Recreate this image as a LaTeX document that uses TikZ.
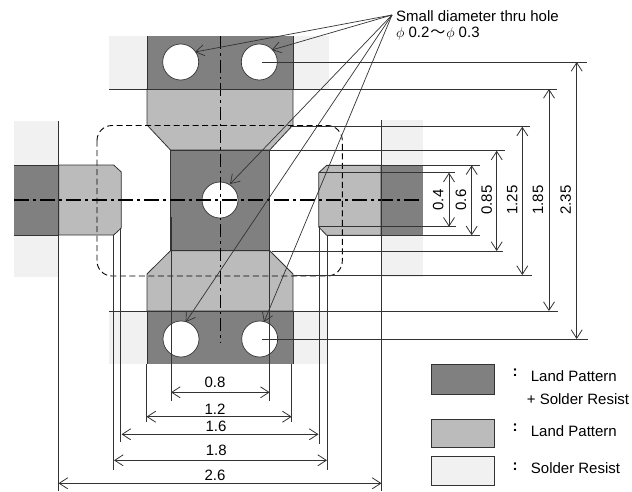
\documentclass[tikz,border=0pt]{standalone}
\usepackage{fontspec}
\setmainfont{Liberation Sans}
\newfontfamily\cjkfont{Noto Sans CJK SC}
\usetikzlibrary{arrows.meta}
\definecolor{dk}{HTML}{808080}
\definecolor{md}{HTML}{BBBBBB}
\definecolor{lt}{HTML}{F1F1F1}
\definecolor{ln}{HTML}{333333}
\tikzset{
  dim/.style={draw=ln,line width=0.8pt},
  dimarrow/.style={draw=ln,line width=0.8pt,{Straight Barb[length=8.5pt,width=11pt]}-{Straight Barb[length=8.5pt,width=11pt]}},
  leader/.style={draw=ln,line width=0.7pt,-{Straight Barb[length=8.5pt,width=11pt]}},
  lab/.style={font=\fontsize{15}{17}\selectfont,inner sep=0pt,text=black},
  vlab/.style={lab,rotate=90},
  pad/.style={draw=ln,line width=0.8pt},
  hcentre/.style={line width=1.2pt,dash pattern=on 15pt off 4pt on 3pt off 4pt,black},
  vcentre/.style={line width=0.8pt,dash pattern=on 13pt off 4pt on 2.5pt off 4pt,black},
  hole/.style={circle,draw=ln,fill=white,line width=0.7pt,minimum size=36pt,inner sep=0pt},
  legendbox/.style={draw=ln,line width=0.8pt,minimum width=63pt,inner sep=0pt,anchor=north west}
}
\begin{document}
\begin{tikzpicture}[x=1pt,y=-1pt]
\useasboundingbox (0,0) rectangle (632,491);
\fill[white] (0,0) rectangle (632,491);
% solder resist
\fill[lt] (109,36) rectangle (328.7,89);
\fill[lt] (109,311) rectangle (327,364);
\fill[lt] (14,121) rectangle (58.7,277);
\fill[lt] (381,119.5) rectangle (422.7,277);
% land pattern
\filldraw[fill=md,pad] (147,89) -- (293,89) -- (293,125) -- (269.7,150) -- (170.5,150) -- (147,125) -- cycle;
\filldraw[fill=md,pad] (170.5,250.7) -- (269.7,250.7) -- (293,274) -- (293,311) -- (147,311) -- (147,274) -- cycle;
\filldraw[fill=md,pad] (58.7,165) -- (113.7,165) -- (121.3,172) -- (121.3,228) -- (113.7,235) -- (58.7,235) -- cycle;
\filldraw[fill=md,pad] (381,165.3) -- (326.7,165.3) -- (318.7,172.7) -- (318.7,227) -- (326.7,235.3) -- (381,235.3) -- cycle;
% land + resist
\fill[dk] (147,36) rectangle (293,89);
\draw[pad] (147,89) -- (147,36) (293,36) -- (293,89);
\filldraw[fill=dk,pad] (170.5,150) rectangle (269.7,250.7);
\fill[dk] (147,311) rectangle (293,364);
\draw[pad] (147,311) -- (147,364) (293,311) -- (293,364);
\fill[dk] (14,165) rectangle (58.7,235);
\draw[pad] (14,165) -- (58.7,165) (14,235) -- (58.7,235);
\fill[dk] (381,165.3) rectangle (422.7,235.3);
\draw[pad] (381,165.3) -- (422.7,165.3) (381,235.3) -- (422.7,235.3);
% holes
\node[hole] (h1) at (180.7,62) {};
\node[hole] (h2) at (259.3,62) {};
\node[hole] (h3) at (220,200) {};
\node[hole] (h4) at (181,339) {};
\node[hole] (h5) at (259.7,339) {};
% outline and centre lines
\draw[black,line width=0.9pt,dash pattern=on 6pt off 3.5pt,rounded corners=15pt] (97,125.5) rectangle (342.3,276);
\draw[hcentre] (14,200) -- (422.7,200);
\draw[vcentre] (220,36) -- (220,343);
% horizontal extension lines
\coordinate (a1) at (261.7,62); \coordinate (a2) at (587,62);
\coordinate (b1) at (261.7,339); \coordinate (b2) at (588,339);
\coordinate (c1) at (109,89); \coordinate (c2) at (557,89);
\coordinate (d1) at (109,311); \coordinate (d2) at (558,311);
\coordinate (e1) at (290,126.7); \coordinate (e2) at (530,126.7);
\coordinate (f1) at (293,275); \coordinate (f2) at (532,275);
\coordinate (g1) at (270,150.7); \coordinate (g2) at (505,150.7);
\coordinate (i1) at (271.7,251); \coordinate (i2) at (503,251);
\coordinate (j1) at (326.7,165.3); \coordinate (j2) at (479.5,165.3);
\coordinate (k1) at (326.7,235.3); \coordinate (k2) at (479.5,235.3);
\coordinate (l1) at (318.7,172.7); \coordinate (l2) at (455,172.7);
\coordinate (m1) at (318.7,226.7); \coordinate (m2) at (455.7,226.7);
\foreach \p/\q in {a1/a2,b1/b2,c1/c2,d1/d2,e1/e2,f1/f2,g1/g2,i1/i2,j1/j2,k1/k2,l1/l2,m1/m2}{\draw[dim] (\p) -- (\q);}
% vertical extension lines
\coordinate (n1) at (171,217); \coordinate (n2) at (171,401);
\coordinate (o1) at (269.7,200); \coordinate (o2) at (269.7,401);
\coordinate (p1) at (146.5,364); \coordinate (p2) at (146.5,421.7);
\coordinate (q1) at (291.7,364); \coordinate (q2) at (291.7,421.7);
\coordinate (r1) at (120.7,228); \coordinate (r2) at (120.7,441.7);
\coordinate (s1) at (319.3,227); \coordinate (s2) at (319.3,444);
\coordinate (t1) at (113.5,235); \coordinate (t2) at (113.5,469.5);
\coordinate (u1) at (327.3,235.3); \coordinate (u2) at (327.3,470);
\coordinate (v1) at (58.5,121); \coordinate (v2) at (58.5,491);
\coordinate (w1) at (381.5,119.5); \coordinate (w2) at (381.5,491);
\foreach \p/\q in {n1/n2,o1/o2,p1/p2,q1/q2,r1/r2,s1/s2,t1/t2,u1/u2,v1/v2,w1/w2}{\draw[dim] (\p) -- (\q);}
% dimension arrows, right
\path[dimarrow] (576.7,62) -- (576.7,339);
\path[dimarrow] (549,89) -- (549,311);
\path[dimarrow] (522.3,126.7) -- (522.3,275);
\path[dimarrow] (496.7,150.7) -- (496.7,251);
\path[dimarrow] (471.7,165.3) -- (471.7,235.3);
\path[dimarrow] (449,172.7) -- (449,226.7);
\node[vlab] (t04) at (438.3,200) {0.4};
\node[vlab] (t06) at (461,200) {0.6};
\node[vlab] (t085) at (486.7,200) {0.85};
\node[vlab] (t125) at (512.3,200) {1.25};
\node[vlab] (t185) at (538,200) {1.85};
\node[vlab] (t235) at (565.7,200) {2.35};
% dimension arrows, bottom
\path[dimarrow] (171,392.3) -- (269.7,392.3);
\path[dimarrow] (146.5,416.7) -- (291.7,416.7);
\path[dimarrow] (121.5,434.3) -- (318.5,434.3);
\path[dimarrow] (114,460.3) -- (327,460.3);
\path[dimarrow] (58.5,483.3) -- (381.5,483.3);
\node[lab] (t08) at (215,382.7) {0.8};
\node[lab] (t12) at (215,409) {1.2};
\node[lab] (t16) at (216,426.7) {1.6};
\node[lab] (t18) at (216.3,450) {1.8};
\node[lab] (t26) at (215,475.7) {2.6};
% leader lines
\coordinate (apex) at (392,15);
\path[leader] (apex) -- (195,52);
\path[leader] (apex) -- (271.7,50);
\path[leader] (apex) -- (230,184);
\path[leader] (apex) -- (185.7,322);
\path[leader] (apex) -- (264,322);
\node[lab,anchor=west] (title1) at (396,16) {Small diameter thru hole};
\node[lab,anchor=west] (title2) at (396,34) {$\phi$\hspace{4pt}0.2\hspace{1pt}{\cjkfont ～}\hspace{1pt}$\phi$\hspace{4pt}0.3};
% legend
\node[legendbox,fill=dk,minimum height=29.5pt] (l1) at (430.5,364) {};
\node[legendbox,fill=md,minimum height=28pt] (l2) at (430.5,419) {};
\node[legendbox,fill=lt,minimum height=29pt] (l3) at (430.5,456.3) {};
\node[lab] (c1t) at (515,373) {\textbf{:}};
\node[lab] (c2t) at (515,428) {\textbf{:}};
\node[lab] (c3t) at (515,467) {\textbf{:}};
\node[lab,anchor=west] (ll1) at (530.7,376) {Land Pattern};
\node[lab,anchor=west] (ll1b) at (526.7,399) {+ Solder Resist};
\node[lab,anchor=west] (ll2) at (530.7,431) {Land Pattern};
\node[lab,anchor=west] (ll3) at (530.7,467.7) {Solder Resist};
\end{tikzpicture}
\end{document}
